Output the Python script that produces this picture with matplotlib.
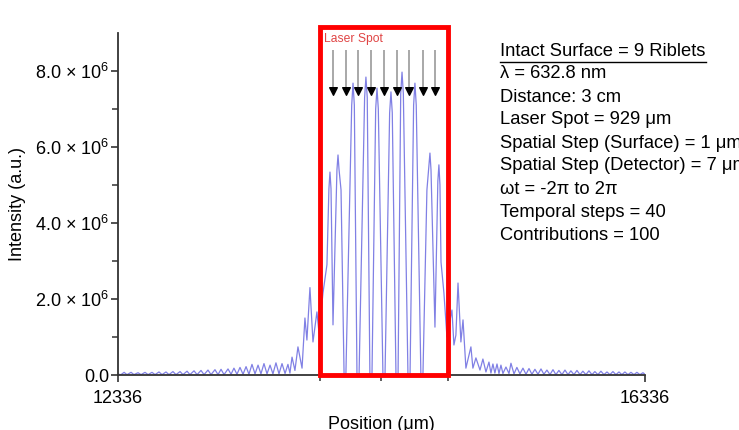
import matplotlib
matplotlib.use("Agg")
import matplotlib.pyplot as plt
from matplotlib.patches import Rectangle
from matplotlib.lines import Line2D
import numpy as np

plt.rcParams["font.family"] = ["Liberation Sans", "DejaVu Sans"]
plt.rcParams["mathtext.fontset"] = "custom"
plt.rcParams["mathtext.rm"] = "Liberation Sans"
plt.rcParams["mathtext.it"] = "Liberation Sans:italic"

# intensity profile (position in um, intensity in 1e6 a.u.)
left_x = [12336, 12359, 12382, 12404, 12435, 12457, 12488, 12511, 12541, 12564,
          12594, 12617, 12647, 12670, 12700, 12723, 12753, 12776, 12807, 12829,
          12860, 12882, 12913, 12936, 12966, 12989, 13019, 13042, 13072, 13095,
          13118, 13141, 13171, 13194, 13216, 13239, 13262, 13285, 13308, 13330,
          13353, 13376, 13399, 13421, 13444, 13467, 13490, 13512, 13535, 13558,
          13581, 13604, 13626, 13641]
left_y = [0.02, 0.01, 0.07, 0.01, 0.07, 0.01, 0.06, 0.01, 0.07, 0.01,
          0.07, 0.01, 0.08, 0.01, 0.08, 0.01, 0.09, 0.01, 0.09, 0.01,
          0.10, 0.01, 0.11, 0.01, 0.12, 0.01, 0.13, 0.01, 0.14, 0.01,
          0.15, 0.01, 0.16, 0.02, 0.18, 0.02, 0.20, 0.02, 0.22, 0.02,
          0.28, 0.03, 0.26, 0.03, 0.30, 0.03, 0.26, 0.03, 0.32, 0.03,
          0.30, 0.04, 0.28, 0.05]

center_x = [13657, 13679, 13702, 13733, 13755, 13770, 13793, 13816, 13846, 13862,
            13892, 13922, 13937, 13945, 13953, 13968, 13998, 14006, 14014, 14029,
            14052, 14066, 14110, 14120, 14130, 14150, 14166, 14208, 14218, 14228,
            14248, 14264, 14292, 14302, 14312, 14347, 14363, 14398, 14408, 14418,
            14446, 14462, 14482, 14492, 14502, 14537, 14553, 14580, 14590, 14600,
            14635, 14651, 14681, 14696, 14704, 14712, 14742, 14764, 14772, 14780,
            14788, 14810, 14833, 14871, 14886, 14901, 14917, 14939, 14955, 14977,
            15015, 15030, 15053, 15084, 15106, 15129]
center_y = [0.47, 0.12, 0.74, 0.18, 1.50, 0.92, 2.30, 0.87, 1.66, 1.10,
            2.16, 2.90, 4.90, 5.34, 4.90, 1.32, 5.40, 5.79, 5.40, 4.87,
            0.03, 0.03, 7.10, 7.68, 7.10, 0.02, 0.02, 7.30, 7.84, 7.30,
            0.02, 0.02, 7.00, 7.55, 7.00, 0.02, 0.02, 6.90, 7.45, 6.90,
            0.02, 0.02, 7.40, 7.97, 7.40, 0.02, 0.02, 7.10, 7.68, 7.10,
            0.03, 0.03, 4.87, 5.50, 5.84, 5.40, 1.26, 5.10, 5.53, 5.00,
            2.97, 2.16, 1.00, 1.71, 0.79, 1.05, 2.42, 0.87, 1.45, 0.18,
            0.74, 0.18, 0.45, 0.13, 0.42, 0.08]

right_x = [15152, 15167, 15182, 15197, 15213, 15228, 15243, 15258, 15281, 15304,
           15319, 15342, 15364, 15387, 15410, 15433, 15456, 15478, 15501, 15524,
           15547, 15569, 15592, 15615, 15638, 15660, 15683, 15706, 15729, 15752,
           15774, 15797, 15820, 15843, 15865, 15888, 15911, 15934, 15956, 15979,
           16002, 16025, 16048, 16070, 16093, 16116, 16139, 16161, 16184, 16207,
           16230, 16253, 16275, 16298, 16321, 16336]
right_y = [0.34, 0.05, 0.29, 0.05, 0.29, 0.04, 0.26, 0.04, 0.21, 0.04,
           0.31, 0.03, 0.20, 0.03, 0.18, 0.02, 0.17, 0.02, 0.15, 0.02,
           0.16, 0.02, 0.13, 0.01, 0.14, 0.01, 0.12, 0.01, 0.13, 0.01,
           0.11, 0.01, 0.12, 0.01, 0.10, 0.01, 0.11, 0.01, 0.09, 0.01,
           0.10, 0.01, 0.08, 0.01, 0.09, 0.01, 0.08, 0.01, 0.08, 0.01,
           0.07, 0.01, 0.07, 0.01, 0.06, 0.02]

# riblet arrows and laser spot
arrow_x = [13968, 14067, 14158, 14257, 14355, 14454, 14545, 14651, 14742]
spot_left = 13870
spot_right = 14840
spot_mid = 14336

yticks = [0, 2e6, 4e6, 6e6, 8e6]
ytick_labels = ["0.0", r"2.0 $\times$ 10$^{6}$", r"4.0 $\times$ 10$^{6}$",
                r"6.0 $\times$ 10$^{6}$", r"8.0 $\times$ 10$^{6}$"]

info_lines = ["Intact Surface = 9 Riblets", "λ = 632.8 nm", "Distance: 3 cm",
              "Laser Spot = 929 μm", "Spatial Step (Surface) = 1 μm",
              "Spatial Step (Detector) = 7 μm", "ωt = -2π to 2π",
              "Temporal steps = 40", "Contributions = 100"]

x = np.array(left_x + center_x + right_x)
y = np.array(left_y + center_y + right_y) * 1e6

fig = plt.figure(figsize=(7.39, 4.30), dpi=100)
ax = fig.add_axes([0.1597, 0.1279, 0.713, 0.7954])

ax.plot(x, y, color="#6a6ae0", lw=0.9, alpha=0.85)

ax.set_xlim(12336, 16336)
ax.set_ylim(0, 9e6)

for side in ["top", "right"]:
    ax.spines[side].set_visible(False)
for side in ["left", "bottom"]:
    ax.spines[side].set_color("#333333")
    ax.spines[side].set_linewidth(1.3)

ax.set_xticks([12336, 16336])
ax.set_xticklabels(["12336", "16336"], fontsize=13)
ax.set_xticks([spot_left, spot_mid, spot_right], minor=True)
ax.set_yticks(yticks)
ax.set_yticklabels(ytick_labels, fontsize=13)
ax.set_yticks([1e6, 3e6, 5e6, 7e6], minor=True)
ax.tick_params(axis="both", which="major", length=5, width=1.2,
               color="#333333", pad=1.5)
ax.tick_params(axis="both", which="minor", length=4, width=1.1,
               color="#333333")
ax.tick_params(axis="x", which="major", pad=6)

ax.set_xlabel("Position (μm)", fontsize=13, labelpad=6)
ax.set_ylabel("Intensity (a.u.)", fontsize=13, labelpad=6)

box = Rectangle((spot_left, 0), spot_right - spot_left, 9.15e6, fill=False,
                edgecolor="#ff0000", lw=3.5, clip_on=False, zorder=5)
ax.add_patch(box)
ax.text(spot_left + 30, 8.85e6, "Laser Spot", color="#e04545", fontsize=8.7,
        va="center", ha="left")

ax.vlines(arrow_x, 7.45e6, 8.55e6, color="#999999", lw=1.2)
ax.scatter(arrow_x, [7.48e6] * len(arrow_x), marker="v", s=30,
           color="black", zorder=6)

for i, line in enumerate(info_lines):
    fig.text(500 / 739, 1 - (51 + 23 * i) / 430, line, fontsize=13.2,
             ha="left", va="center")
fig.add_artist(Line2D([500 / 739, 706 / 739], [1 - 61.5 / 430, 1 - 61.5 / 430],
                      color="black", lw=1.0))

fig.savefig("out.png", dpi=100)
